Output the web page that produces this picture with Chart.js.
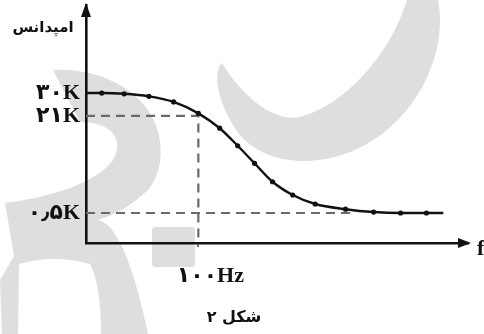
<!DOCTYPE html>
<html>
<head>
<meta charset="utf-8">
<script src="https://cdn.jsdelivr.net/npm/chart.js@4/dist/chart.umd.min.js"></script>
<style>
  body { margin: 0; background: #fff; }
  canvas { display: block; }
</style>
</head>
<body>
<canvas id="impedanceChart" width="484" height="334"></canvas>
<script>
// data
const frequencyHz = [0, 14, 34, 56, 78, 100, 119, 135, 150, 166, 184, 204, 231, 256, 280, 303, 318];
const impedanceK = [30, 30, 29.7, 28.7, 26.5, 22, 18.4, 14.7, 11.0, 7.1, 4.3, 2.4, 1.3, 0.7, 0.5, 0.5, 0.5];
const markerShown = [0, 1, 1, 1, 1, 1, 1, 1, 1, 1, 1, 1, 1, 1, 1, 1, 0];

const yTickValues = [30, 21, 0.5];
const yTickLabels = ["۳۰K", "۲۱K", "۰٫۵K"];
const xTickValues = [100];
const xTickLabels = ["۱۰۰Hz"];

const cutoffHz = 100;
const cutoffK = 21;
const floorK = 0.5;
const floorGuideEndHz = 235;

// the figure is schematic: y axis is broken, so map value -> fraction of height piecewise
const yStops = [[0, 0], [0.5, 0.126], [21, 0.534], [30, 0.630], [45, 1]];

class BrokenScale extends Chart.LinearScale {
    toDecimal(v) {
        for (let i = 1; i < yStops.length; i++) {
            const [v0, d0] = yStops[i - 1];
            const [v1, d1] = yStops[i];
            if (v <= v1 || i === yStops.length - 1) {
                return d0 + (v - v0) / (v1 - v0) * (d1 - d0);
            }
        }
    }
    getPixelForValue(value) {
        return this.getPixelForDecimal(this.toDecimal(value));
    }
    getValueForPixel(pixel) {
        const d = this.getDecimalForPixel(pixel);
        for (let i = 1; i < yStops.length; i++) {
            const [v0, d0] = yStops[i - 1];
            const [v1, d1] = yStops[i];
            if (d <= d1 || i === yStops.length - 1) {
                return v0 + (d - d0) / (d1 - d0) * (v1 - v0);
            }
        }
    }
}
BrokenScale.id = "broken";
BrokenScale.defaults = Chart.LinearScale.defaults;
Chart.register(BrokenScale);

const labelFont = "'Liberation Serif', 'DejaVu Sans', serif";

// grey watermark shapes + white page behind the chart
const backdrop = {
    id: "backdrop",
    beforeDraw(chart) {
        const c = chart.ctx;
        c.save();
        c.fillStyle = "#fff";
        c.fillRect(0, 0, chart.width, chart.height);
        c.fillStyle = "#dedede";

        // big "2" on the left
        c.beginPath();
        c.moveTo(53, 70);
        c.bezierCurveTo(95, 68, 130, 85, 148, 110);
        c.bezierCurveTo(165, 135, 165, 170, 148, 190);
        c.quadraticCurveTo(125, 212, 98, 220);
        c.quadraticCurveTo(125, 225, 148, 334);
        c.lineTo(101, 334);
        c.quadraticCurveTo(101, 285, 90, 264);
        c.quadraticCurveTo(55, 254, 19, 264);
        c.lineTo(18, 334);
        c.lineTo(2, 334);
        c.lineTo(0, 280);
        c.lineTo(14, 256);
        c.lineTo(5, 203);
        c.bezierCurveTo(45, 198, 95, 185, 113, 160);
        c.bezierCurveTo(125, 140, 112, 122, 80, 122);
        c.closePath();
        c.fill();

        // crescent top right
        c.beginPath();
        c.moveTo(222, 63);
        c.bezierCurveTo(245, 100, 275, 122, 300, 117);
        c.bezierCurveTo(345, 105, 390, 55, 407, 0);
        c.lineTo(438, 0);
        c.bezierCurveTo(448, 50, 420, 115, 365, 145);
        c.bezierCurveTo(320, 170, 265, 165, 240, 135);
        c.bezierCurveTo(222, 112, 210, 75, 222, 63);
        c.closePath();
        c.fill();

        // small square near the frequency label
        c.beginPath();
        c.roundRect(152, 227, 43, 40, 3);
        c.fill();
        c.restore();
    },
    afterDraw(chart) {
        const c = chart.ctx;
        const a = chart.chartArea;
        c.save();
        c.fillStyle = "#111";
        // arrow heads
        c.beginPath();
        c.moveTo(a.left, a.top - 2);
        c.lineTo(a.left - 5, a.top + 12);
        c.lineTo(a.left + 5, a.top + 12);
        c.closePath();
        c.fill();
        c.beginPath();
        c.moveTo(a.right + 3, a.bottom);
        c.lineTo(a.right - 10, a.bottom - 5);
        c.lineTo(a.right - 10, a.bottom + 5);
        c.closePath();
        c.fill();

        c.font = "bold 22px " + labelFont;
        c.textAlign = "left";
        c.textBaseline = "alphabetic";
        c.fillText("f", a.right + 9, a.bottom + 12);

        c.font = "bold 15px 'DejaVu Sans'";
        c.textAlign = "center";
        c.textBaseline = "middle";
        c.fillText("امپدانس", 43, 28);

        c.font = "bold 16px 'DejaVu Sans'";
        c.fillText("شکل ۲", 234, 318);
        c.restore();
    }
};

const ctx = document.getElementById("impedanceChart").getContext("2d");
new Chart(ctx, {
    type: "line",
    data: {
        datasets: [
            {
                data: frequencyHz.map((f, i) => ({ x: f, y: impedanceK[i] })),
                borderColor: "#111",
                borderWidth: 2.4,
                cubicInterpolationMode: "monotone",
                pointRadius: markerShown.map(m => m ? 2.6 : 0),
                pointBackgroundColor: "#111",
                pointBorderWidth: 0,
                fill: false
            },
            {
                data: [{ x: 0, y: cutoffK }, { x: cutoffHz, y: cutoffK }, { x: cutoffHz, y: 0 }],
                borderColor: "#6a6a6a",
                borderWidth: 2.2,
                borderDash: [9, 6],
                pointRadius: 0,
                tension: 0
            },
            {
                data: [{ x: 0, y: floorK }, { x: floorGuideEndHz, y: floorK }],
                borderColor: "#6a6a6a",
                borderWidth: 2.2,
                borderDash: [9, 6],
                pointRadius: 0,
                tension: 0
            }
        ]
    },
    options: {
        responsive: false,
        animation: false,
        layout: { padding: { left: 0, right: 16, top: 5, bottom: 0 } },
        plugins: { legend: { display: false }, tooltip: { enabled: false } },
        scales: {
            x: {
                type: "linear",
                min: 0,
                max: 340,
                afterFit: s => { s.height = 91; s.paddingLeft = 0; s.paddingRight = 0; },
                afterBuildTicks: s => { s.ticks = xTickValues.map(v => ({ value: v })); },
                ticks: {
                    autoSkip: false,
                    maxRotation: 0,
                    padding: 16,
                    labelOffset: 12,
                    color: "#111",
                    font: { family: labelFont, size: 22, weight: "bold" },
                    callback: (v, i) => xTickLabels[i]
                },
                grid: { drawOnChartArea: false, drawTicks: true, tickLength: 4, color: "#6a6a6a", lineWidth: 2 },
                border: { display: true, color: "#111", width: 2.6 }
            },
            y: {
                type: "broken",
                min: 0,
                max: 45,
                afterFit: s => { s.width = 86; s.paddingTop = 0; s.paddingBottom = 0; },
                afterBuildTicks: s => { s.ticks = yTickValues.map(v => ({ value: v })); },
                ticks: {
                    autoSkip: false,
                    padding: 6,
                    color: "#111",
                    font: { family: labelFont, size: 22, weight: "bold" },
                    callback: (v, i) => yTickLabels[i]
                },
                grid: { display: false, drawTicks: false },
                border: { display: true, color: "#111", width: 2.6 }
            }
        }
    },
    plugins: [backdrop]
});
</script>
</body>
</html>
